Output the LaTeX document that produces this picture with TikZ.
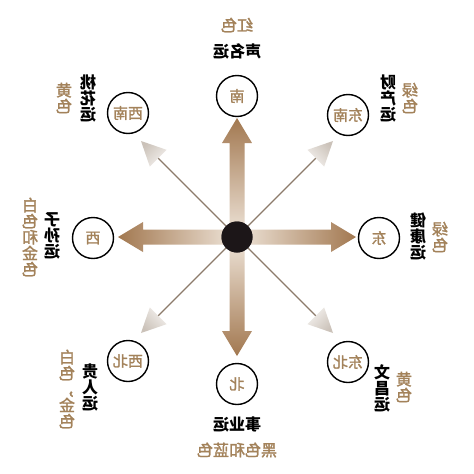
\documentclass[tikz,border=0pt]{standalone}
\usepackage{fontspec}
\newfontfamily\cjk{Noto Sans CJK SC}
\newfontfamily\cjkt[FakeBold=1.6]{Noto Sans CJK SC}
\definecolor{tanc}{HTML}{A3825A}
\definecolor{adark}{HTML}{A27850}
\definecolor{alight}{HTML}{EFE5DA}
\definecolor{dline}{HTML}{8C7B6B}
\definecolor{hdark}{HTML}{CBC2B9}
\definecolor{hlight}{HTML}{F4F1EE}
\definecolor{disk}{HTML}{1C1618}
\newcommand\M[1]{\reflectbox{#1}}
\tikzset{
  dirc/.style={circle, draw=black, line width=1.4pt, minimum size=41pt, inner sep=0pt,
    text=tanc, font=\cjkt\fontsize{15}{15}\selectfont},
  blk/.style={text=black, font=\cjk\bfseries\fontsize{16}{16}\selectfont, align=center, inner sep=0pt},
  tanl/.style={text=tanc, font=\cjkt\fontsize{16}{16}\selectfont, align=center, inner sep=0pt},
  thinline/.style={draw=dline, line width=1.3pt},
  headshade/.style={shading=axis, left color=hdark, right color=hlight},
}
\begin{document}
\begin{tikzpicture}[x=1pt,y=-1pt]
\useasboundingbox[fill=white] (0,0) rectangle (474,474);

% thick arrows
\shade[top color=adark, bottom color=alight]
  (229.5,237) -- (229.5,143) -- (222,143) -- (237,118) -- (252,143) -- (244.5,143) -- (244.5,237) -- cycle;
\shade[bottom color=adark, top color=alight]
  (229.5,237) -- (229.5,331) -- (222,331) -- (237,356) -- (252,331) -- (244.5,331) -- (244.5,237) -- cycle;
\shade[left color=adark, right color=alight]
  (237,229.5) -- (143,229.5) -- (143,222) -- (118,237) -- (143,252) -- (143,244.5) -- (237,244.5) -- cycle;
\shade[right color=adark, left color=alight]
  (237,229.5) -- (331,229.5) -- (331,222) -- (356,237) -- (331,252) -- (331,244.5) -- (237,244.5) -- cycle;

% centre
\node[circle, fill=disk, minimum size=31pt, inner sep=0pt] (c) at (237,237) {};

% diagonal thin arrows
\coordinate (bnw) at (157.6,157.6);
\coordinate (bne) at (316.4,157.6);
\coordinate (bsw) at (157.6,316.4);
\coordinate (bse) at (316.4,316.4);
\draw[thinline] (c) -- (bnw);
\draw[thinline] (c) -- (bne);
\draw[thinline] (c) -- (bsw);
\draw[thinline] (c) -- (bse);
\shade[headshade, shading angle=45]  (141,141) -- (166.5,149.8) -- (149.8,166.5) -- cycle;
\shade[headshade, shading angle=-45] (333,141) -- (324.2,166.5) -- (307.5,149.8) -- cycle;
\shade[headshade, shading angle=135] (141,333) -- (166.5,324.2) -- (149.8,307.5) -- cycle;
\shade[headshade, shading angle=-135](333,333) -- (324.2,307.5) -- (307.5,324.2) -- cycle;
\node[circle, fill=disk, minimum size=31pt, inner sep=0pt] at (237,237) {};

% direction circles
\node[dirc] (s)  at (237,96)  {\M{南}};
\node[dirc] (sw) at (128,113) {\M{西南}};
\node[dirc] (se) at (348,115) {\M{东南}};
\node[dirc] (w)  at (93,238)  {\M{西}};
\node[dirc] (e)  at (379,238) {\M{东}};
\node[dirc] (nw) at (128,361) {\M{西北}};
\node[dirc] (ne) at (348,362) {\M{东北}};
\node[dirc] (n)  at (237,384) {\M{北}};

% labels
\node[tanl] (ts1) at (237,25)  {\M{红色}};
\node[blk]  (ts2) at (237,51)  {\M{声名运}};
\node[blk]  (tsw1) at (88,99)  {\M{桃}\\\M{花}\\\M{运}};
\node[tanl] (tsw2) at (64,98)  {\M{黄}\\\M{色}};
\node[blk]  (tse1) at (388,99) {\M{财}\\\M{产}\\\M{运}};
\node[tanl] (tse2) at (410,98) {\M{绿}\\\M{色}};
\node[blk]  (tw1) at (52,236)  {\M{子}\\\M{孙}\\\M{运}};
\node[tanl] (tw2) at (30,237)  {\M{白}\\\M{色}\\\M{和}\\\M{金}\\\M{色}};
\node[blk]  (te1) at (418,237) {\M{健}\\\M{康}\\\M{运}};
\node[tanl] (te2) at (440,237) {\M{绿}\\\M{色}};
\node[blk]  (tnw1) at (90,388) {\M{贵}\\\M{人}\\\M{运}};
\node[tanl] (tnw2) at (67,389) {\M{白}\\\M{色}\\\M{，}\\\M{金}\\\M{色}};
\node[blk]  (tne1) at (382,388) {\M{文}\\\M{昌}\\\M{运}};
\node[tanl] (tne2) at (404,387) {\M{黄}\\\M{色}};
\node[blk]  (tn1) at (237,425) {\M{事业运}};
\node[tanl] (tn2) at (237,450) {\M{黑色和蓝色}};
\end{tikzpicture}
\end{document}
